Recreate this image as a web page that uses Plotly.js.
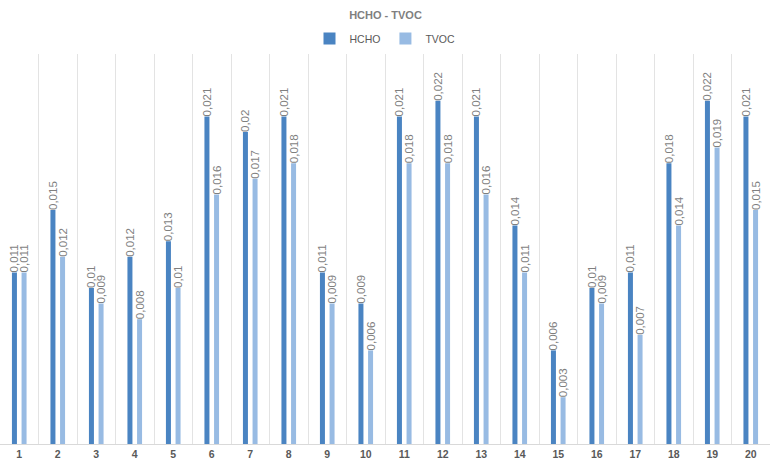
<!DOCTYPE html>
<html>
<head>
<meta charset="utf-8">
<script src="https://cdn.plot.ly/plotly-3.0.1.min.js"></script>
<style>html,body{margin:0;padding:0;background:#fff;}#chart{width:771px;height:469px;}</style>
</head>
<body>
<div id="chart"></div>
<script>
const categories = [1,2,3,4,5,6,7,8,9,10,11,12,13,14,15,16,17,18,19,20];
const tickLabels = categories.map(String);
const hcho = [0.011,0.015,0.01,0.012,0.013,0.021,0.02,0.021,0.011,0.009,0.021,0.022,0.021,0.014,0.006,0.01,0.011,0.018,0.022,0.021];
const tvoc = [0.011,0.012,0.009,0.008,0.01,0.016,0.017,0.018,0.009,0.006,0.018,0.018,0.016,0.011,0.003,0.009,0.007,0.014,0.019,0.015];

const fmt = v => String(v).replace('.', ',');
const boundaries = categories.slice(0, -1).map(c => c + 0.5);

const labelFont = {family: 'Liberation Sans, Arial, sans-serif', size: 11.5, color: '#7f7f7f'};

const traces = [
  {type: 'bar', name: 'HCHO', x: categories, y: hcho, marker: {color: '#4a84c2'},
   text: hcho.map(fmt), textposition: 'outside', textangle: -90, constraintext: 'none', textfont: labelFont, cliponaxis: false, hoverinfo: 'x+y'},
  {type: 'bar', name: 'TVOC', x: categories, y: tvoc, marker: {color: '#98bbe3'},
   text: tvoc.map(fmt), textposition: 'outside', textangle: -90, constraintext: 'none', textfont: labelFont, cliponaxis: false, hoverinfo: 'x+y'}
];

const layout = {
  width: 771, height: 469,
  margin: {l: 0, r: 1, t: 54, b: 25},
  paper_bgcolor: '#ffffff', plot_bgcolor: '#ffffff',
  font: {family: 'Liberation Sans, Arial, sans-serif', color: '#595959'},
  title: {text: '<b>HCHO - TVOC</b>', x: 0.5, xanchor: 'center', y: 0.968, yanchor: 'middle',
          font: {size: 11, color: '#7f7f7f', family: 'Liberation Sans, Arial, sans-serif'}},
  showlegend: true,
  legend: {orientation: 'h', x: 0.5, xanchor: 'center', y: 1.04, yanchor: 'middle',
           font: {size: 10.5, color: '#595959'}, itemwidth: 30, bgcolor: 'rgba(0,0,0,0)'},
  barmode: 'group', bargap: 0.5, bargroupgap: 0.48,
  xaxis: {type: 'linear', range: [0.5, 20.5], tickvals: categories, ticktext: tickLabels,
          showgrid: false, zeroline: false, showline: true, linecolor: '#d9d9d9', linewidth: 1,
          ticks: '', ticklen: 0, tickfont: {size: 10.5, color: '#595959', family: 'Liberation Sans, Arial, sans-serif', weight: 'bold'},
          minor: {tickvals: boundaries, showgrid: true, gridcolor: '#e3e3e3', gridwidth: 1, ticks: ''},
          fixedrange: true},
  yaxis: {range: [0, 0.025], visible: false, showgrid: false, zeroline: false, fixedrange: true}
};

Plotly.newPlot('chart', traces, layout, {displayModeBar: false, staticPlot: true});
</script>
</body>
</html>
